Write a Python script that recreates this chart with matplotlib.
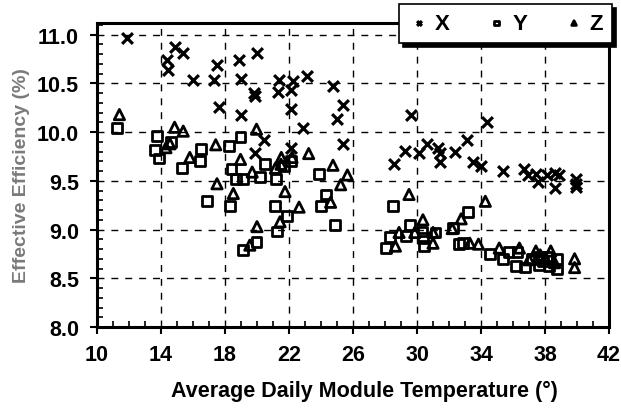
import matplotlib
matplotlib.use("Agg")
import matplotlib.pyplot as plt
from matplotlib.ticker import MultipleLocator, FormatStrFormatter

# ---- data ----
x_temp = [11.9, 14.9, 15.4, 14.4, 14.45, 17.5, 18.9, 20.0, 16.0, 17.3, 19.0, 19.8,
          19.85, 17.6, 19.0, 19.9, 21.4, 22.25, 23.15, 21.3, 22.15, 24.75, 22.1,
          25.4, 25.0, 29.6, 22.9, 20.45, 22.1, 25.4, 29.25, 30.1, 30.6, 28.55,
          34.4, 31.3, 31.45, 31.45, 32.4, 33.1, 33.5, 34.0, 35.4, 36.7, 36.95,
          37.45, 37.55, 38.15, 38.6, 38.9, 38.6, 39.95, 39.95, 39.95]
x_eff = [10.97, 10.87, 10.81, 10.74, 10.64, 10.69, 10.74, 10.81, 10.54, 10.54, 10.55, 10.40,
         10.37, 10.26, 10.18, 9.79, 10.53, 10.52, 10.58, 10.41, 10.43, 10.47, 10.24,
         10.28, 10.13, 10.18, 10.04, 9.92, 9.84, 9.88, 9.81, 9.79, 9.88, 9.67,
         10.10, 9.84, 9.79, 9.69, 9.80, 9.92, 9.69, 9.65, 9.60, 9.62, 9.56,
         9.57, 9.49, 9.56, 9.58, 9.56, 9.43, 9.52, 9.47, 9.44]

y_temp = [11.25, 13.75, 13.63, 13.85, 14.65, 16.5, 16.42, 15.3, 18.25, 18.97, 18.41, 18.7,
          19.12, 20.2, 20.5, 21.2, 21.7, 22.1, 23.9, 24.3, 16.85, 18.3, 21.1, 24.0,
          21.85, 24.9, 21.27, 19.97, 19.1, 28.04, 28.31, 28.5, 29.3, 29.55, 30.34,
          30.37, 30.42, 31.16, 32.24, 33.17, 32.6, 32.86, 34.56, 35.35, 35.72, 36.28,
          36.2, 36.75, 37.2, 37.6, 37.65, 37.9, 38.1, 38.25, 38.77, 38.77]
y_eff = [10.04, 9.96, 9.82, 9.73, 9.90, 9.83, 9.70, 9.63, 9.86, 9.95, 9.62, 9.52,
         9.52, 9.54, 9.67, 9.52, 9.65, 9.70, 9.57, 9.36, 9.29, 9.24, 9.24, 9.24,
         9.14, 9.05, 8.98, 8.87, 8.79, 8.81, 8.92, 9.24, 8.93, 9.05, 8.98,
         8.91, 8.83, 8.97, 9.02, 9.18, 8.85, 8.86, 8.75, 8.70, 8.77, 8.77,
         8.63, 8.61, 8.70, 8.72, 8.64, 8.68, 8.72, 8.63, 8.70, 8.59]

z_temp = [11.4, 14.85, 15.39, 14.31, 14.56, 15.8, 17.42, 19.97, 18.97, 17.5, 19.7, 21.52,
          21.15, 21.5, 22.19, 23.23, 24.75, 25.65, 25.23, 18.52, 21.75, 22.63, 24.6,
          21.44, 20.0, 19.55, 29.5, 34.27, 32.76, 32.2, 30.37, 29.86, 28.88, 28.65,
          31.0, 31.0, 33.3, 33.84, 35.14, 36.4, 37.0, 37.43, 37.7, 38.0, 38.36,
          38.6, 39.85, 39.85]
z_eff = [10.18, 10.05, 10.01, 9.84, 9.88, 9.74, 9.87, 10.03, 9.72, 9.47, 9.59, 9.74,
         9.63, 9.67, 9.74, 9.78, 9.66, 9.56, 9.46, 9.37, 9.39, 9.23, 9.28,
         9.08, 9.03, 8.84, 9.36, 9.29, 9.11, 9.01, 9.10, 8.97, 8.97, 8.83,
         8.97, 8.86, 8.86, 8.85, 8.81, 8.81, 8.69, 8.78, 8.74, 8.70, 8.78,
         8.66, 8.70, 8.61]

series_labels = ["X", "Y", "Z"]
x_ticks = [10, 14, 18, 22, 26, 30, 34, 38, 42]
y_ticks = [8.0, 8.5, 9.0, 9.5, 10.0, 10.5, 11.0]

plt.rcParams['font.family'] = ['Liberation Sans', 'DejaVu Sans']
plt.rcParams['font.weight'] = 'bold'

fig = plt.figure(figsize=(6.21, 4.10), dpi=100)
ax = fig.add_axes([97 / 621, (410 - 328) / 410, (609 - 97) / 621, (328 - 24) / 410])

mk = dict(facecolor='none', edgecolor='black', linewidths=2.0)
ax.scatter(x_temp, x_eff, marker='x', s=60, color='black', linewidths=2.3, label=series_labels[0], zorder=3)
ax.scatter(y_temp, y_eff, marker='s', s=50, label=series_labels[1], zorder=3, **mk)
ax.scatter(z_temp, z_eff, marker='^', s=55, label=series_labels[2], zorder=3, **mk)

ax.set_xlim(10, 42)
ax.set_ylim(8.0, 11.12)
ax.set_xticks(x_ticks)
ax.set_yticks(y_ticks)
ax.xaxis.set_minor_locator(MultipleLocator(1))
ax.yaxis.set_minor_locator(MultipleLocator(0.1))
ax.yaxis.set_major_formatter(FormatStrFormatter('%.1f'))

ax.grid(True, which='major', color='black', linestyle=(0, (5, 5)), linewidth=1.0)
ax.set_axisbelow(True)

ax.tick_params(which='major', direction='out', length=5, width=1.5, labelsize=15.5)
ax.tick_params(axis='y', which='major', pad=8)
ax.tick_params(axis='x', which='major', pad=7)
ax.tick_params(which='minor', direction='in', length=4, width=1.2)
for lab in ax.get_xticklabels() + ax.get_yticklabels():
    lab.set_fontweight('bold')
for sp in ax.spines.values():
    sp.set_linewidth(2.2)

ax.set_xlabel('Average Daily Module Temperature (°)', fontsize=15.5, fontweight='bold')
ax.set_ylabel('Effective Efficiency (%)', fontsize=14, fontweight='bold', color='#7a7a7a')
ax.xaxis.set_label_coords(0.523, (328 - 381) / 304)
ax.yaxis.set_label_coords((30 - 97) / 512, 0.5)

leg = ax.legend(ncol=3, loc='upper left', mode='expand',
                bbox_to_anchor=(399 / 621, 1 - 38 / 410, 213 / 621, 33 / 410),
                bbox_transform=fig.transFigure, frameon=True, fancybox=False,
                shadow={'ox': 3, 'oy': -3, 'color': 'black', 'alpha': 1},
                prop={'weight': 'bold', 'size': 16}, markerscale=0.45,
                handletextpad=0.2, borderpad=0.4, handlelength=1.0,
                borderaxespad=0)
leg.get_frame().set_edgecolor('black')
leg.get_frame().set_linewidth(1.2)
leg.set_zorder(10)

fig.savefig('out.png', dpi=100)
